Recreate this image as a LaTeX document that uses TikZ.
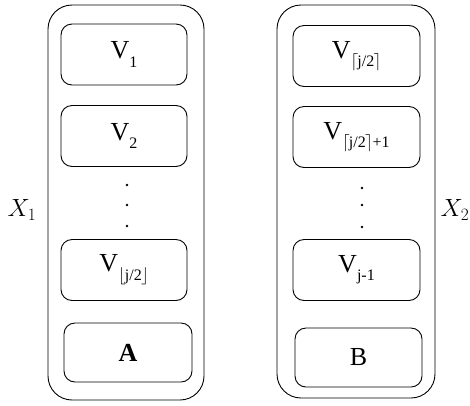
\documentclass[tikz,border=0pt]{standalone}
\usepackage{fontspec}
\setmainfont{Liberation Serif}
\newcommand{\subtxt}[1]{\raisebox{-0.32em}{\fontsize{16}{16}\selectfont #1}}
\newcommand{\flr}[1]{\raisebox{-0.05em}{$\lfloor$}\kern-0.05em#1\kern-0.05em\raisebox{-0.05em}{$\rfloor$}}
\newcommand{\cl}[1]{$\lceil$\kern-0.05em#1\kern-0.05em$\rceil$}
\begin{document}
\begin{tikzpicture}[x=1pt,y=-1pt,
  outerbox/.style={draw, line width=0.9pt, rounded corners=24pt, inner sep=0pt},
  itembox/.style={draw, line width=0.9pt, rounded corners=11pt, inner sep=0pt,
                  minimum width=126pt, minimum height=61pt,
                  font=\fontsize{26}{26}\selectfont},
  dotmark/.style={circle, fill, inner sep=0pt, minimum size=2.6pt},
  setlabel/.style={font=\fontsize{25}{25}\selectfont}]
\useasboundingbox (0,0) rectangle (470,405);

% left group
\node[outerbox, minimum width=156pt, minimum height=395pt] (L) at (126,202.5) {};
\node[itembox] (v1) at (124,54.5) {V\subtxt{1}};
\node[itembox] (v2) at (124,136) {V\subtxt{2}};
\node[dotmark] (ld1) at (127,185) {};
\node[dotmark] (ld2) at (127,205) {};
\node[dotmark] (ld3) at (127,226) {};
\node[itembox] (vf) at (124,270) {V\subtxt{\flr{j/2}}};
\node[itembox, minimum width=128pt, minimum height=59pt] (a) at (128,352.5) {\textbf{A}};
\node[setlabel] (x1) at (22,210) {$X_1$};

% right group
\node[outerbox, minimum width=158pt, minimum height=393pt] (R) at (356,201.5) {};
\node[itembox, minimum width=127pt] (vc) at (356.5,56) {V\subtxt{\cl{j/2}}};
\node[itembox, minimum width=127pt] (vc1) at (356.5,137) {V\subtxt{\cl{j/2}+1}};
\node[dotmark] (rd1) at (362,188) {};
\node[dotmark] (rd2) at (362,205) {};
\node[dotmark] (rd3) at (362,227) {};
\node[itembox, minimum width=127pt] (vj) at (356.5,270) {V\subtxt{j-1}};
\node[itembox, minimum width=127pt, minimum height=59pt] (b) at (358.5,357.5) {B};
\node[setlabel] (x2) at (455,210) {$X_2$};
\end{tikzpicture}
\end{document}
